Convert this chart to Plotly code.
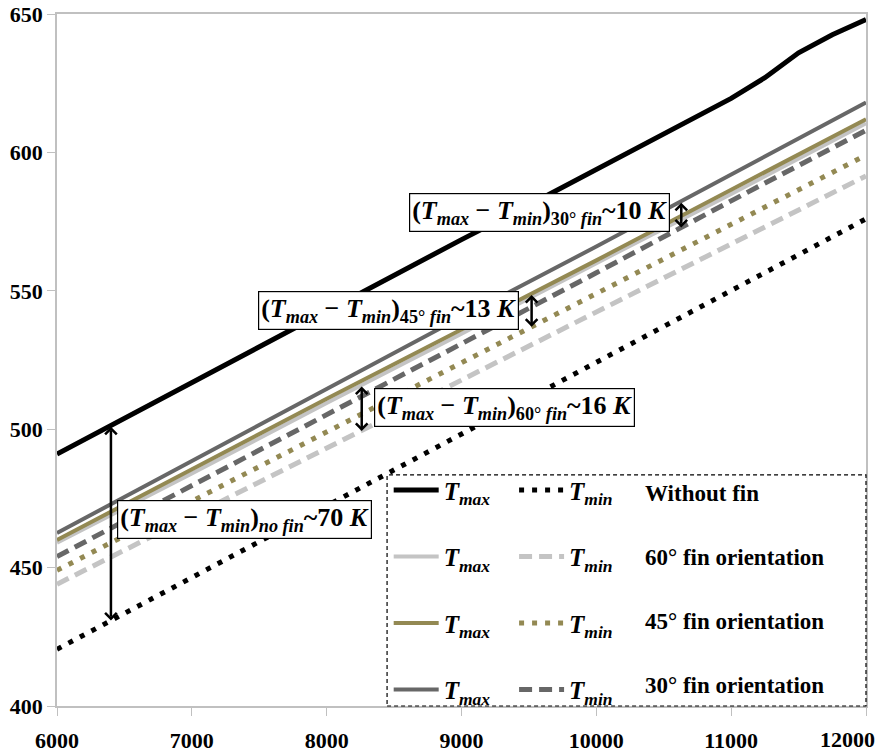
import numpy as np
import plotly.graph_objects as go

# ---------------- data ----------------
x_black = [6000, 6500, 7000, 7500, 8000, 8500, 9000, 9500, 10000, 10500, 11000, 11250, 11500, 11750, 12000]
tmax_nofin = [491, 504, 517, 530, 542.5, 555.5, 568.5, 581, 594, 607, 619.5, 627, 636, 642.5, 648]

x_fin = [6000, 7000, 8000, 9000, 10000, 11000, 12000]
tmin_nofin = [420.5, 446.5, 472.5, 498, 524, 550, 576]
tmax_60 = [459, 484, 509.5, 534.5, 560, 585, 610.5]
tmin_60 = [444, 468.5, 493, 517.5, 542, 567, 591.5]
tmax_45 = [460, 485.5, 511, 536, 561, 586.5, 612]
tmin_45 = [449, 474, 499, 524, 549, 574, 599]
tmax_30 = [462.5, 488.5, 514.5, 540.5, 566, 592, 618]
tmin_30 = [454, 479.5, 505, 531, 556.5, 582.5, 608]

case_labels = ["Without fin", "60° fin orientation", "45° fin orientation", "30° fin orientation"]
diff_labels = ["no fin", "60° fin", "45° fin", "30° fin"]
diff_values = ["70", "16", "13", "10"]
arrow_x = [6400, 8260, 9520, 10630]

x_ticks = [6000, 7000, 8000, 9000, 10000, 11000, 12000]
y_ticks = [400, 450, 500, 550, 600, 650]

# ---------------- styles ----------------
BLACK = "#000000"
LIGHT = "#c4c4c4"
OLIVE = "#938953"
DARK = "#676767"
SERIF = "Liberation Serif"

TMAX_NAME = "<b><i>T</i></b><sub><b><i>max</i></b></sub>"
TMIN_NAME = "<b><i>T</i></b><sub><b><i>min</i></b></sub>"

fig = go.Figure()

series = [
    (x_black, tmax_nofin, BLACK, 5, "solid", "legend", "a"),
    (x_fin, tmin_nofin, BLACK, 5, "5px,8px", "legend2", "a"),
    (x_fin, tmax_60, LIGHT, 4, "solid", "legend", "b"),
    (x_fin, tmin_60, LIGHT, 5, "13px,7px", "legend2", "b"),
    (x_fin, tmax_45, OLIVE, 4, "solid", "legend", "c"),
    (x_fin, tmin_45, OLIVE, 5, "5px,8px", "legend2", "c"),
    (x_fin, tmax_30, DARK, 4, "solid", "legend", "d"),
    (x_fin, tmin_30, DARK, 5, "13px,7px", "legend2", "d"),
]
for xs, ys, col, w, dash, leg, grp in series:
    fig.add_trace(go.Scatter(
        x=xs, y=ys, mode="lines",
        line=dict(color=col, width=w, dash=dash),
        name=TMAX_NAME if leg == "legend" else TMIN_NAME,
        legend=leg, legendgroup=leg + grp,
    ))

# ---------------- annotations: difference arrows + boxes ----------------
pairs = [
    (x_black, tmax_nofin, x_fin, tmin_nofin),
    (x_fin, tmax_60, x_fin, tmin_60),
    (x_fin, tmax_45, x_fin, tmin_45),
    (x_fin, tmax_30, x_fin, tmin_30),
]
for (xa, ya, xb, yb), ax_ in zip(pairs, arrow_x):
    top = float(np.interp(ax_, xa, ya))
    bot = float(np.interp(ax_, xb, yb))
    fig.add_annotation(
        x=ax_, y=bot, ax=ax_, ay=top, xref="x", yref="y", axref="x", ayref="y",
        text="", showarrow=True, arrowhead=4, startarrowhead=4, arrowside="end+start",
        arrowsize=0.9, startarrowsize=0.9, arrowwidth=2.5, arrowcolor="black", standoff=0, startstandoff=0,
    )

box_pos = [(7387, 467.4), (9322, 507.8), (8455, 542.8), (9582, 578.2)]
for (bx, by), lab, val in zip(box_pos, diff_labels, diff_values):
    if lab == "no fin":
        sub = "<i>no fin</i>"
    else:
        sub = lab.split(" ")[0] + " <i>fin</i>"
    txt = ("<b>(<i>T</i><sub><i>max</i></sub> − <i>T</i><sub><i>min</i></sub>)"
           "<sub>" + sub + "</sub>~" + val + " <i>K</i></b>")
    fig.add_annotation(
        x=bx, y=by, xref="x", yref="y", text=txt, showarrow=False,
        font=dict(family=SERIF, size=26, color="black"),
        bgcolor="white", bordercolor="black", borderwidth=1.2, borderpad=2,
    )

# ---------------- legend box & labels ----------------
fig.add_shape(type="rect", xref="paper", yref="paper", x0=0.408, x1=1.0, y0=0.0, y1=0.334,
              line=dict(color="black", width=1.2, dash="4px,3px"), fillcolor="white", layer="above")

row_y = [0.3064, 0.2153, 0.1214, 0.0303]
for lab, ry in zip(case_labels, row_y):
    fig.add_annotation(x=0.7244, y=ry, xref="paper", yref="paper", xanchor="left", yanchor="middle",
                       text="<b>" + lab + "</b>", showarrow=False,
                       font=dict(family=SERIF, size=23, color="black"))

# last x tick label, pulled inside the figure edge like in the reference
fig.add_annotation(x=1.0, y=0, xref="paper", yref="paper", xanchor="right", yanchor="middle",
                   xshift=11, yshift=-33, text="<b>%d</b>" % x_ticks[-1], showarrow=False,
                   font=dict(family=SERIF, size=22, color="black"))

legend_common = dict(
    orientation="v", bgcolor="rgba(0,0,0,0)", borderwidth=0,
    font=dict(family=SERIF, size=25, color="black"),
    traceorder="grouped", tracegroupgap=31, itemwidth=45,
    xanchor="left", yanchor="top", yref="paper", xref="paper",
)

fig.update_layout(
    width=882, height=754,
    margin=dict(l=57, r=16, t=14, b=48, autoexpand=False),
    paper_bgcolor="white", plot_bgcolor="white",
    showlegend=True,
    legend=dict(x=0.41, y=0.345, **legend_common),
    legend2=dict(x=0.565, y=0.345, **legend_common),
    xaxis=dict(range=[6000, 12000], tickvals=x_ticks,
               ticktext=[str(v) if v != x_ticks[-1] else "" for v in x_ticks],
               automargin=False, ticklabelstandoff=6,
               showgrid=False, zeroline=False, showline=True, linecolor="#c0c0c0", linewidth=1.5,
               mirror=True, ticks="outside", ticklen=8, tickcolor="#c0c0c0",
               tickfont=dict(family=SERIF, size=22, color="black", weight="bold")),
    yaxis=dict(range=[400, 650], tickvals=y_ticks, ticktext=[str(v) for v in y_ticks],
               automargin=False, ticklabeloverflow="allow",
               showgrid=False, zeroline=False, showline=True, linecolor="#c0c0c0", linewidth=1.5,
               mirror=True, ticks="outside", ticklen=8, tickcolor="#c0c0c0",
               tickfont=dict(family=SERIF, size=22, color="black", weight="bold")),
)

fig.write_html("out.html")
